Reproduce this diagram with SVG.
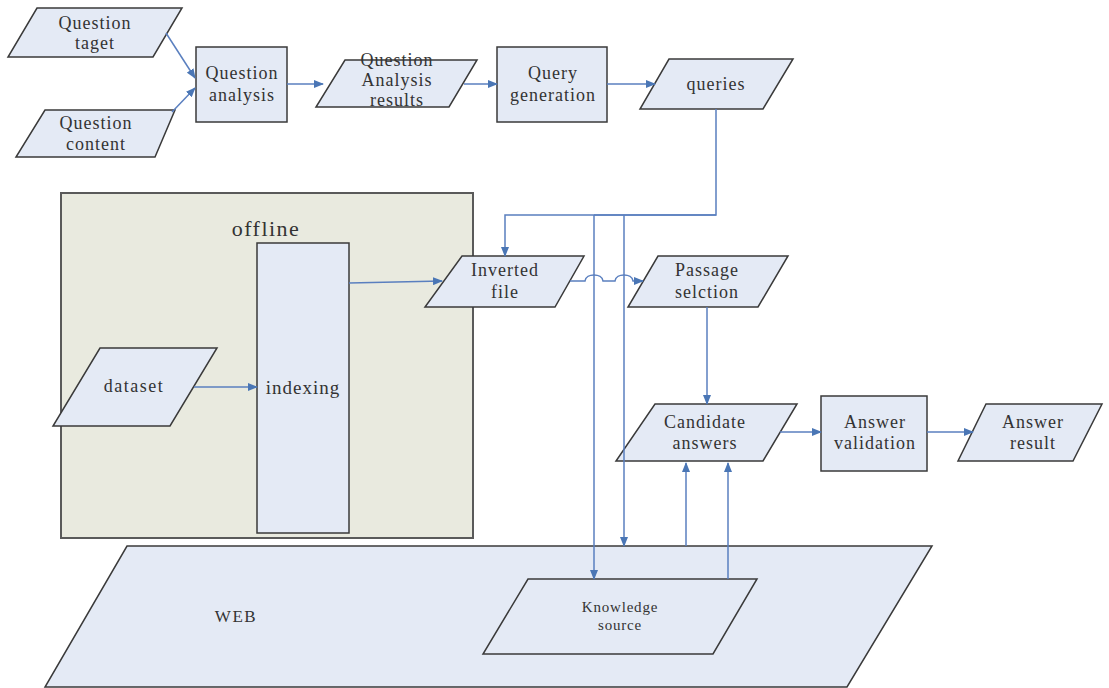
<svg xmlns="http://www.w3.org/2000/svg" width="1109" height="688" viewBox="0 0 1109 688">
<defs>
<marker id="arr" markerWidth="10" markerHeight="8" refX="9" refY="4" orient="auto" markerUnits="userSpaceOnUse">
<path d="M0,0 L10,4 L0,8 Z" fill="#4a76b5"/>
</marker>
<style>
.node{fill:#e4eaf5;stroke:#3a3a3a;stroke-width:1.5}
.grp{fill:#e9eadf;stroke:#5a5a5a;stroke-width:2}
.t{font-family:"Liberation Serif",serif;font-size:18px;letter-spacing:1px;fill:#333;text-anchor:middle}
.c{fill:none;stroke:#5a7fbf;stroke-width:1.5}
.ca{fill:none;stroke:#5a7fbf;stroke-width:1.5;marker-end:url(#arr)}
</style>
</defs>
<rect width="1109" height="688" fill="#fff"/>

<g id="offline">
<rect class="grp" x="61" y="193" width="412" height="345"/>
<text class="t" x="266" y="236" style="font-size:22px;letter-spacing:1.5px">offline</text>
</g>
<g id="web">
<polygon class="node" points="127,546 932,546 847,687 45,687"/>
<text class="t" x="236" y="622" style="font-size:17px;letter-spacing:1.5px">WEB</text>
</g>
<g id="knowledge-source">
<polygon class="node" points="528,579 757,579 713,654 483,654"/>
<text class="t" x="620" y="612" style="font-size:15px;letter-spacing:0.8px">Knowledge</text>
<text class="t" x="620" y="630" style="font-size:15px;letter-spacing:0.8px">source</text>
</g>
<g id="question-taget">
<polygon class="node" points="37,8 182,8 153,57 8,57"/>
<text class="t" x="95" y="29">Question</text>
<text class="t" x="95" y="49">taget</text>
</g>
<g id="question-content">
<polygon class="node" points="45,110 175,110 155,157 16,157"/>
<text class="t" x="96" y="129">Question</text>
<text class="t" x="96" y="150">content</text>
</g>
<g id="question-analysis">
<rect class="node" x="196" y="47" width="91" height="75"/>
<text class="t" x="242" y="79">Question</text>
<text class="t" x="242" y="101">analysis</text>
</g>
<g id="question-analysis-results">
<polygon class="node" points="345,60 477,60 449,107 316,107"/>
<text class="t" x="397" y="66">Question</text>
<text class="t" x="397" y="86">Analysis</text>
<text class="t" x="397" y="106">results</text>
</g>
<g id="query-generation">
<rect class="node" x="497" y="47" width="110" height="75"/>
<text class="t" x="553" y="79">Query</text>
<text class="t" x="553" y="101">generation</text>
</g>
<g id="queries">
<polygon class="node" points="669,59 793,59 763,109 640,109"/>
<text class="t" x="716" y="90">queries</text>
</g>
<g id="indexing">
<rect class="node" x="257" y="243" width="92" height="290"/>
<text class="t" x="303" y="394" style="font-size:19px">indexing</text>
</g>
<g id="dataset">
<polygon class="node" points="100,348 217,348 170,426 53,426"/>
<text class="t" x="134" y="392" style="letter-spacing:1.5px">dataset</text>
</g>
<g id="inverted-file">
<polygon class="node" points="462,256 584,256 555,307 425,307"/>
<text class="t" x="505" y="276">Inverted</text>
<text class="t" x="505" y="298">file</text>
</g>
<g id="passage-selection">
<polygon class="node" points="658,256 788,256 758,307 628,307"/>
<text class="t" x="707" y="276">Passage</text>
<text class="t" x="707" y="298">selction</text>
</g>
<g id="candidate-answers">
<polygon class="node" points="655,404 797,404 763,461 616,461"/>
<text class="t" x="705" y="428">Candidate</text>
<text class="t" x="705" y="449">answers</text>
</g>
<g id="answer-validation">
<rect class="node" x="821" y="396" width="106" height="75"/>
<text class="t" x="875" y="428">Answer</text>
<text class="t" x="875" y="449">validation</text>
</g>
<g id="answer-result">
<polygon class="node" points="986,404 1102,404 1073,461 958,461"/>
<text class="t" x="1033" y="428">Answer</text>
<text class="t" x="1033" y="449">result</text>
</g>

<g id="connectors">
<path class="ca" d="M166,33 L195,78"/>
<path class="ca" d="M172,112 L195,88"/>
<path class="ca" d="M287,84 L323,84"/>
<path class="ca" d="M464,84 L497,84"/>
<path class="ca" d="M607,84 L655,84"/>
<path class="ca" d="M716,109 L716,215 L505,215 L505,256"/>
<path class="c" d="M716,215 L594,215"/>
<path class="ca" d="M594,215 L594,579"/>
<path class="ca" d="M624,215 L624,546"/>
<path class="ca" d="M686,546 L686,463"/>
<path class="ca" d="M728,579 L728,463"/>
<path class="ca" d="M570,281 L585,281 C586,273 602,273 603,281 L615,281 C616,273 632,273 633,281 L643,281"/>
<path class="ca" d="M707,307 L707,404"/>
<path class="ca" d="M780,432 L821,432"/>
<path class="ca" d="M927,432 L973,432"/>
<path class="ca" d="M194,387 L257,387"/>
<path class="ca" d="M349,283 L442,281"/>
</g>
</svg>
